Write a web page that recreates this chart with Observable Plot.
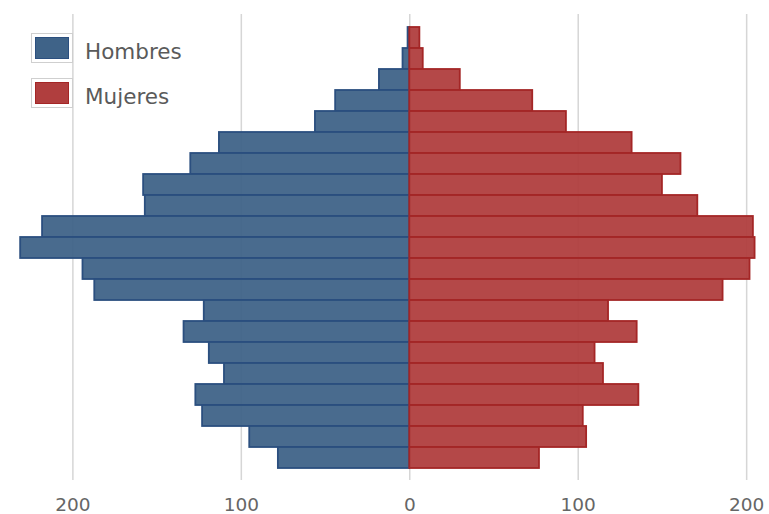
<!DOCTYPE html>
<html>
<head>
<meta charset="utf-8">
<script src="https://cdn.jsdelivr.net/npm/d3@7"></script>
<script src="https://cdn.jsdelivr.net/npm/@observablehq/plot@0.6"></script>
<style>
  html, body { margin: 0; padding: 0; background: #fff; }
  #wrap { position: relative; width: 769px; height: 514px; }
  .legend { position: absolute; left: 31px; top: 33px; font-family: "DejaVu Sans", Verdana, sans-serif; font-size: 21.5px; color: #5a5a5a; }
  .item { display: flex; align-items: center; height: 30px; margin-bottom: 15px; }
  .item span { position: relative; top: 3px; }
  .sw { box-sizing: border-box; width: 42px; height: 30px; border: 1.5px solid #cfcfcf; padding: 3px; margin-right: 12px; background: #fff; }
  .sw div { width: 100%; height: 100%; box-sizing: border-box; }
</style>
</head>
<body>
<div id="wrap"></div>
<script>
// Age groups, top to bottom
const ages = ["100+","95-99","90-94","85-89","80-84","75-79","70-74","65-69","60-64","55-59","50-54","45-49","40-44","35-39","30-34","25-29","20-24","15-19","10-14","5-9","0-4"];
const hombres = [1, 4, 18, 44, 56, 113, 130, 158, 157, 218, 231, 194, 187, 122, 134, 119, 110, 127, 123, 95, 78];
const mujeres = [6, 8, 30, 73, 93, 132, 161, 150, 171, 204, 205, 202, 186, 118, 135, 110, 115, 136, 103, 105, 77];
const xTicks = [-200, -100, 0, 100, 200];
const series = ["Hombres", "Mujeres"];
const colors = {Hombres: {fill: "#3f6388", stroke: "#2b4f7f"}, Mujeres: {fill: "#b03e3e", stroke: "#a42626"}};

const data = ages.flatMap((a, i) => [
  {age: a, sex: "Hombres", v: -hombres[i]},
  {age: a, sex: "Mujeres", v: mujeres[i]}
]);

const chart = Plot.plot({
  width: 769,
  height: 514,
  marginLeft: 5,
  marginRight: 6,
  marginTop: 14,
  marginBottom: 34,
  style: {fontFamily: "DejaVu Sans, Verdana, sans-serif", fontSize: "18.5px", color: "#666", background: "#fff"},
  x: {domain: [-240, 210], ticks: xTicks, tickFormat: d => Math.abs(d), tickSize: 0, tickPadding: 17, label: null},
  y: {domain: ages, axis: null, padding: 0, insetTop: 6, insetBottom: 5},
  marks: [
    Plot.ruleX(xTicks, {stroke: "#d6d6d6", strokeWidth: 1.5}),
    Plot.barX(data, {
      x: "v", y: "age",
      fill: d => colors[d.sex].fill,
      stroke: d => colors[d.sex].stroke,
      strokeWidth: 1.8,
      fillOpacity: 0.95,
      inset: 0
    })
  ]
});

const wrap = document.getElementById("wrap");
wrap.appendChild(chart);
const legend = document.createElement("div");
legend.className = "legend";
series.forEach(s => {
  const it = document.createElement("div");
  it.className = "item";
  const sw = document.createElement("div");
  sw.className = "sw";
  const inner = document.createElement("div");
  inner.style.background = colors[s].fill;
  inner.style.border = "1px solid " + colors[s].stroke;
  sw.appendChild(inner);
  const t = document.createElement("span");
  t.textContent = s;
  it.appendChild(sw);
  it.appendChild(t);
  legend.appendChild(it);
});
wrap.appendChild(legend);
</script>
</body>
</html>
